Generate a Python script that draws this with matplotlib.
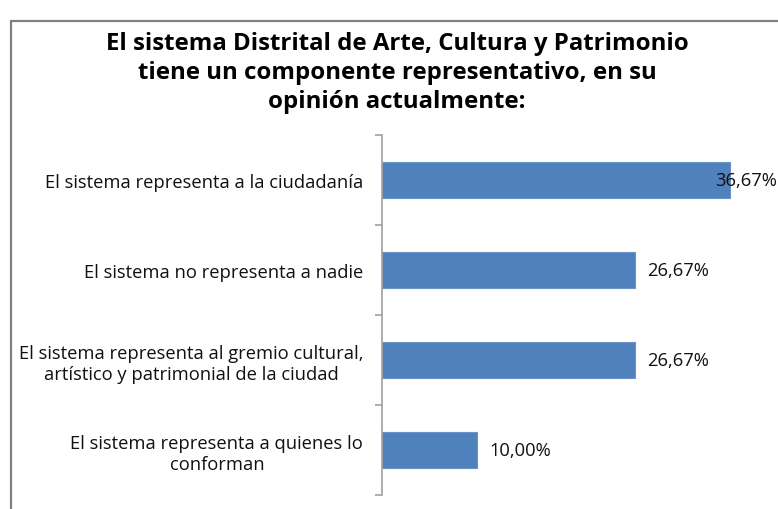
import numpy as np
import matplotlib.pyplot as plt
from matplotlib.patches import Rectangle

# Data
categories = [
    "El sistema representa a la ciudadanía",
    "El sistema no representa a nadie",
    "El sistema representa al gremio cultural,\nartístico y patrimonial de la ciudad",
    "El sistema representa a quienes lo\nconforman",
]
values = [0.3667, 0.2667, 0.2667, 0.10]
value_labels = ["36,67%", "26,67%", "26,67%", "10,00%"]
title = ("El sistema Distrital de Arte, Cultura y Patrimonio\n"
         "tiene un componente representativo, en su\n"
         "opinión actualmente:")

W, H = 778, 510
plt.rcParams['font.family'] = ['Open Sans', 'DejaVu Sans']

fig = plt.figure(figsize=(W / 100, H / 100), dpi=100)
fig.patch.set_facecolor('white')

# outer chart frame (cropped on the right and bottom)
fig.add_artist(Rectangle((11 / W, -0.1), 1.2, 1 - 22 / H + 0.1,
                         transform=fig.transFigure, fill=False,
                         edgecolor='#808080', lw=1.6))

ax = fig.add_axes([382 / W, 14 / H, (777 - 382) / W, (496 - 136) / H])
y = np.arange(len(categories))
ax.barh(y, values, height=0.4, color='#4F81BD', edgecolor='#6C94C8', lw=0.8)
ax.set_ylim(len(categories) - 0.5, -0.5)
xmax = 0.416
ax.set_xlim(0, xmax)

fs = 13.2
for yi, v, lab in zip(y, values, value_labels):
    x = v + 0.0126
    if x + 0.066 > xmax:
        ax.text(xmax, yi, lab, ha='right', va='center', fontsize=fs,
                color='#111111', clip_on=False)
    else:
        ax.text(x, yi, lab, ha='left', va='center', fontsize=fs,
                color='#111111')

ax.set_yticks(y)
ax.set_yticklabels(categories, fontsize=fs, color='#111111',
                   multialignment='center', linespacing=1.22)
ax.tick_params(axis='y', which='major', length=0, pad=13.5)
ax.set_yticks(np.arange(len(categories) + 1) - 0.5, minor=True)
ax.tick_params(axis='y', which='minor', length=5, color='#A0A0A0', width=1.2)
ax.set_xticks([])
for s in ['top', 'right', 'bottom']:
    ax.spines[s].set_visible(False)
ax.spines['left'].set_color('#A0A0A0')
ax.spines['left'].set_linewidth(1.2)

fig.text(397 / W, 1 - 73 / H, title, ha='center', va='center',
         fontsize=17.3, fontweight='bold', linespacing=1.28, color='black')

fig.savefig('out.png', dpi=100)
